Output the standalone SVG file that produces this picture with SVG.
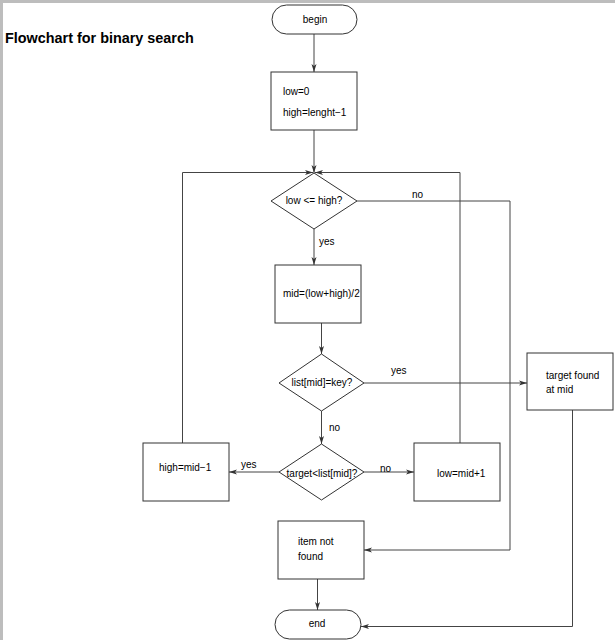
<svg xmlns="http://www.w3.org/2000/svg" width="615" height="640" viewBox="0 0 615 640">
<style>
.s{fill:#fff;stroke:#333;stroke-width:1}
.t{font-family:"Liberation Sans",Arial,sans-serif;font-size:10px;fill:#000}
.c{text-anchor:middle}
.e{fill:none;stroke:#444;stroke-width:1}
</style>
<defs>
<marker id="a" viewBox="0 0 8 6" refX="8" refY="3" markerWidth="8" markerHeight="6" markerUnits="userSpaceOnUse" orient="auto">
<path d="M0,0.5 L8,3 L0,5.5 L2,3 Z" fill="#333"/>
</marker>
</defs>
<rect width="615" height="640" fill="#fff"/>
<rect x="0" y="0" width="615" height="3" fill="#bdbdbd"/>
<rect x="0" y="0" width="3" height="640" fill="#bdbdbd"/>
<text x="5" y="43" font-family="Liberation Sans,Arial,sans-serif" font-size="14.4" font-weight="bold">Flowchart for binary search</text>
<g id="connectors">
<path class="e" d="M314,34 V72" marker-end="url(#a)"/>
<path class="e" d="M314,130 V173" marker-end="url(#a)"/>
<path class="e" d="M182.5,443 V172.5 H313" marker-end="url(#a)"/>
<path class="e" d="M460,443 V172.5 H315" marker-end="url(#a)"/>
<path class="e" d="M314,229 V265" marker-end="url(#a)"/>
<path class="e" d="M321.5,323 V354" marker-end="url(#a)"/>
<path class="e" d="M364,383 H527" marker-end="url(#a)"/>
<path class="e" d="M321.5,411 V444" marker-end="url(#a)"/>
<path class="e" d="M279,472 H229" marker-end="url(#a)"/>
<path class="e" d="M364,472 H414" marker-end="url(#a)"/>
<path class="e" d="M357,201 H510 V550 H364" marker-end="url(#a)"/>
<path class="e" d="M317.5,579 V610" marker-end="url(#a)"/>
<path class="e" d="M572.5,410 V626.5 H361" marker-end="url(#a)"/>
<text class="t" x="412" y="198">no</text>
<text class="t" x="319" y="245">yes</text>
<text class="t" x="391" y="374">yes</text>
<text class="t" x="329" y="431">no</text>
<text class="t" x="241" y="468">yes</text>
<text class="t" x="380" y="472">no</text>
</g>
<g id="begin">
<rect class="s" x="272" y="5" width="85" height="29" rx="14.5"/>
<text class="t c" x="315" y="23">begin</text>
</g>
<g id="init">
<rect class="s" x="271" y="72" width="86" height="58"/>
<text class="t" x="283" y="95">low=0</text>
<text class="t" x="283" y="116">high=lenght−1</text>
</g>
<g id="cond1">
<path class="s" d="M314,173 L357,201 L314,229 L271,201 Z"/>
<text class="t c" x="314" y="204">low &lt;= high?</text>
</g>
<g id="mid">
<rect class="s" x="275" y="265" width="86" height="58"/>
<text class="t" x="283" y="297">mid=(low+high)/2</text>
</g>
<g id="cond2">
<path class="s" d="M321.5,354 L364,383 L321.5,411 L279,383 Z"/>
<text class="t c" x="322" y="386">list[mid]=key?</text>
</g>
<g id="found">
<rect class="s" x="527" y="353" width="86" height="57"/>
<text class="t" x="546" y="379">target found</text>
<text class="t" x="546" y="393">at mid</text>
</g>
<g id="cond3">
<path class="s" d="M321.5,444 L364,472 L321.5,500 L279,472 Z"/>
<text class="t c" x="322" y="477">target&lt;list[mid]?</text>
</g>
<g id="high">
<rect class="s" x="143" y="443" width="86" height="58"/>
<text class="t" x="159" y="471">high=mid−1</text>
</g>
<g id="low">
<rect class="s" x="414" y="443" width="86" height="58"/>
<text class="t" x="437" y="477">low=mid+1</text>
</g>
<g id="notfound">
<rect class="s" x="278" y="521" width="86" height="58"/>
<text class="t" x="298" y="545">item not</text>
<text class="t" x="298" y="560">found</text>
</g>
<g id="end">
<rect class="s" x="275" y="610" width="86" height="29" rx="14.5"/>
<text class="t c" x="317" y="627">end</text>
</g>
</svg>
